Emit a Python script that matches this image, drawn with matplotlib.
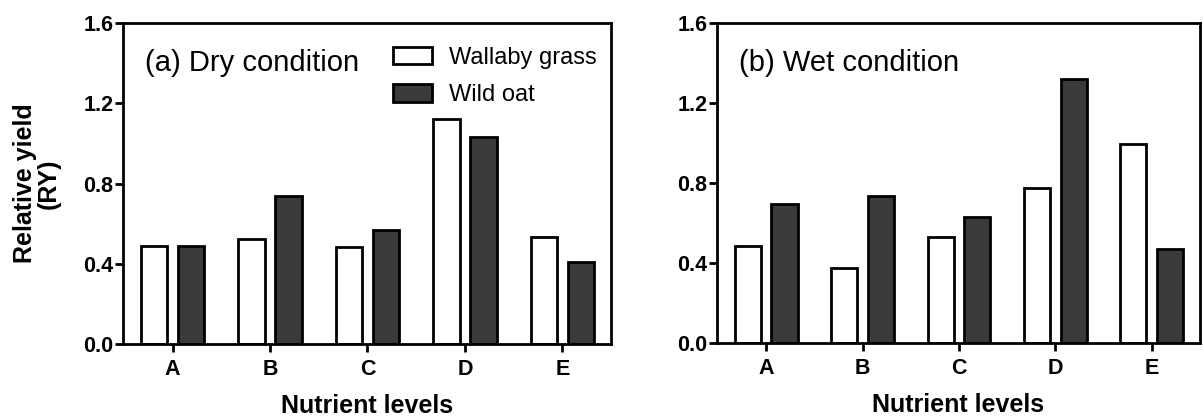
import matplotlib
matplotlib.use('Agg')
import matplotlib.pyplot as plt
import numpy as np

plt.rcParams['font.family'] = ['Liberation Sans', 'DejaVu Sans']

# data
levels = ['A', 'B', 'C', 'D', 'E']
dry_wallaby = [0.486, 0.522, 0.481, 1.122, 0.532]
dry_oat = [0.486, 0.738, 0.569, 1.033, 0.411]
wet_wallaby = [0.485, 0.377, 0.528, 0.777, 0.993]
wet_oat = [0.693, 0.735, 0.628, 1.322, 0.470]

yticks = [0.0, 0.4, 0.8, 1.2, 1.6]
dark = '#3a3a3a'

fig = plt.figure(figsize=(12.03, 4.18), dpi=100)
ax1 = fig.add_axes([123/1203, 74/418, 488/1203, 321/418])
ax2 = fig.add_axes([717/1203, 75/418, 483/1203, 320/418])

x = np.arange(len(levels))
w = 0.27
off = 0.19

panels = [(ax1, dry_wallaby, dry_oat, '(a) Dry condition'),
          (ax2, wet_wallaby, wet_oat, '(b) Wet condition')]

for ax, wal, oat, title in panels:
    ax.bar(x - off, wal, w, color='white', edgecolor='black', linewidth=2,
           label='Wallaby grass', zorder=2)
    ax.bar(x + off, oat, w, color=dark, edgecolor='black', linewidth=2,
           label='Wild oat', zorder=2)
    ax.set_xlim(-0.51, 4.5)
    ax.set_ylim(0, 1.6)
    ax.set_yticks(yticks)
    ax.set_yticklabels([f'{v:.1f}' for v in yticks])
    ax.set_xticks(x)
    ax.set_xticklabels(levels)
    for s in ax.spines.values():
        s.set_linewidth(2)
    ax.tick_params(axis='both', direction='out', width=2, length=6,
                   labelsize=15.5)
    for lab in ax.get_xticklabels() + ax.get_yticklabels():
        lab.set_fontweight('bold')
    ax.tick_params(axis='x', pad=5)
    ax.tick_params(axis='y', pad=1)
    ax.set_xlabel('Nutrient levels', fontsize=18, fontweight='bold', labelpad=10)
    ax.text(0.045, 0.875, title, transform=ax.transAxes, fontsize=21,
            va='center', ha='left')

ax1.set_ylabel('Relative yield\n(RY)', fontsize=18, fontweight='bold',
               labelpad=16, linespacing=1.0)

leg = ax1.legend(loc='upper left', bbox_to_anchor=(0.534, 0.955), frameon=False,
                 fontsize=17, handlelength=1.65, handleheight=0.75,
                 labelspacing=0.65, handletextpad=0.7, borderaxespad=0)

fig.savefig('out.png', dpi=100, facecolor='white')
